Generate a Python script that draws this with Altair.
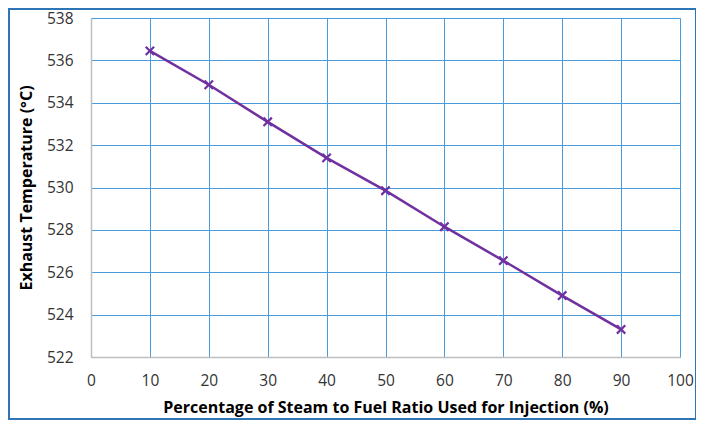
import altair as alt
import pandas as pd

steam_pct = [10, 20, 30, 40, 50, 60, 70, 80, 90]
exhaust_temp = [536.45, 534.85, 533.1, 531.4, 529.85, 528.15, 526.55, 524.9, 523.3]

df = pd.DataFrame({"x": steam_pct, "y": exhaust_temp})

W, H = 589, 339
FONT = "Open Sans"
GRID = "#4A9BDB"
PURPLE = "#7030A0"

xenc = alt.X("x:Q", scale=alt.Scale(domain=[0, 100], nice=False),
             axis=alt.Axis(values=list(range(0, 101, 10)), title="Percentage of Steam to Fuel Ratio Used for Injection (%)",
                           grid=True, gridColor=GRID, gridWidth=1, ticks=False, labelFlush=False,
                           domainColor="#BFBFBF", domainWidth=1.5,
                           labelFont=FONT, labelFontSize=15.5, labelColor="#333333", labelPadding=16,
                           titleFont=FONT, titleFontSize=16, titleFontWeight="bold", titleColor="#000000",
                           titlePadding=11))
yenc = alt.Y("y:Q", scale=alt.Scale(domain=[522, 538], nice=False, zero=False),
             axis=alt.Axis(values=list(range(522, 539, 2)), title="Exhaust Temperature (°C)",
                           grid=True, gridColor=GRID, gridWidth=1, ticks=False, labelFlush=False,
                           domainColor="#BFBFBF", domainWidth=1.5,
                           labelFont=FONT, labelFontSize=15.5, labelColor="#333333", labelPadding=18,
                           titleFont=FONT, titleFontSize=16, titleFontWeight="bold", titleColor="#000000",
                           titlePadding=12))

line = alt.Chart(df).mark_line(color=PURPLE, strokeWidth=2.5).encode(x=xenc, y=yenc)
pts = alt.Chart(df).mark_point(shape="M-1,-1L1,1M1,-1L-1,1", filled=False, color=PURPLE, size=70,
                               strokeWidth=2.2, opacity=1).encode(x="x:Q", y="y:Q")

border = alt.Chart(pd.DataFrame({"a": [0]})).mark_rect(
    fill=None, stroke="#2E75B6", strokeWidth=2
).encode(x=alt.value(-82), x2=alt.value(W + 16), y=alt.value(-9), y2=alt.value(H + 62))

chart = alt.layer(border, line, pts).properties(
    width=W, height=H,
    autosize=alt.AutoSizeParams(type="none"),
    padding={"left": 83, "top": 10, "right": 16, "bottom": 63},
).configure_view(stroke=None).configure(background="white")

chart.save("out.html", embed_options={"renderer": "svg", "actions": False})
